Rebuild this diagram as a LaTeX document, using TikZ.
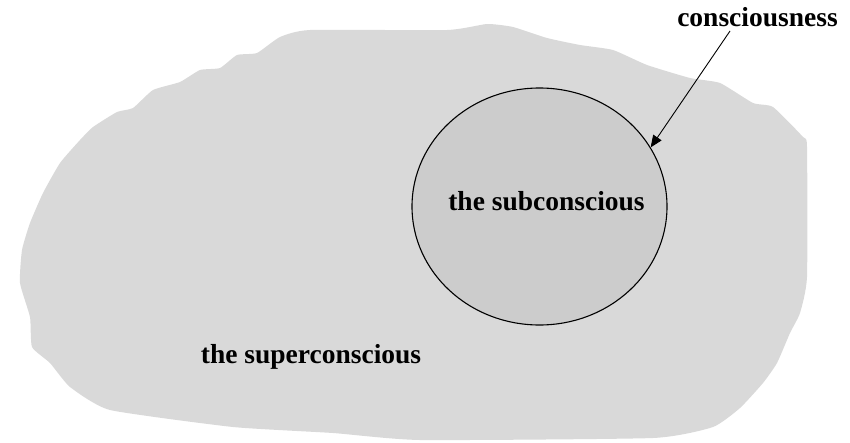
\documentclass[tikz,border=0pt]{standalone}
\usepackage{fontspec}
\setmainfont{Liberation Serif}
\usetikzlibrary{arrows.meta,shapes.geometric}
\definecolor{blobgray}{RGB}{217,217,217}
\definecolor{innergray}{RGB}{204,204,204}
\begin{document}
\begin{tikzpicture}[x=1pt,y=-1pt,
  lbl/.style={font=\fontsize{27.5}{31}\selectfont\bfseries, inner sep=0pt, anchor=base},
  region/.style={ellipse, draw=black, fill=innergray, line width=1.1pt, inner sep=0pt},
  pointer/.style={-{Triangle[length=12pt,width=10pt]}, line width=0.9pt}
]
\useasboundingbox (0,0) rectangle (850,442);
\fill[blobgray] plot[smooth cycle, tension=0.3] coordinates {
 (20,283) (22,250) (30,223) (43,193) (60,163) (80,140) (93,127) (117,112)
 (133,108) (153,90) (180,82) (200,70) (220,68) (237,55) (257,53) (280,37)
 (310,30) (447,30) (487,24) (513,27) (547,38) (580,45) (613,50) (647,65)
 (690,78) (720,83) (753,103) (773,107) (803,137) (807,147) (807,277)
 (800,313) (790,333) (777,363) (763,383) (740,408) (713,427) (653,438)
 (420,440) (333,433) (233,427) (110,410) (70,387) (50,363) (32,347) (30,317)};
\node[region, minimum width=255pt, minimum height=237pt] (sub) at (539.5,206.5) {};
\node[lbl] (subtext) at (546.5,210) {the subconscious};
\node[lbl] (super) at (311,363) {the superconscious};
\node[lbl] (cons) at (757.5,26) {consciousness};
\coordinate (arrowstart) at (730,31);
\draw[pointer] (arrowstart) -- (sub.28);
\end{tikzpicture}
\end{document}
